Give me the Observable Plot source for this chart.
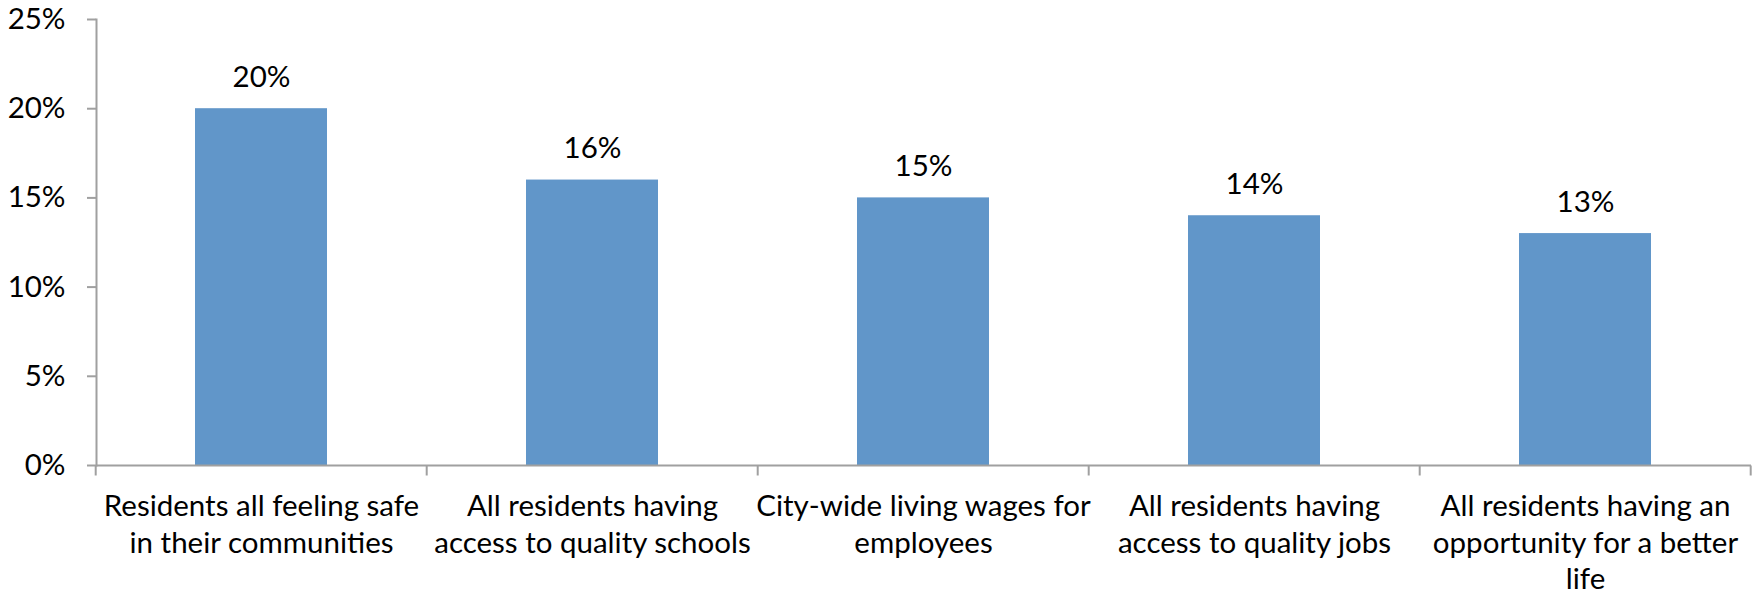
<!DOCTYPE html>
<html>
<head>
<meta charset="utf-8">
<script src="https://cdn.jsdelivr.net/npm/d3@7"></script>
<script src="https://cdn.jsdelivr.net/npm/@observablehq/plot@0.6"></script>
<style>
  html, body { margin: 0; padding: 0; background: #fff; }
  #chart svg { display: block; }
</style>
</head>
<body>
<div id="chart"></div>
<script>
const categories = [
  "Residents all feeling safe in their communities",
  "All residents having access to quality schools",
  "City-wide living wages for employees",
  "All residents having access to quality jobs",
  "All residents having an opportunity for a better life"
];
const tickLabels = [
  "Residents all feeling safe\nin their communities",
  "All residents having\naccess to quality schools",
  "City-wide living wages for\nemployees",
  "All residents having\naccess to quality jobs",
  "All residents having an\nopportunity for a better\nlife"
];
const values = [0.20, 0.16, 0.15, 0.14, 0.13];
const yTicks = [0, 0.05, 0.10, 0.15, 0.20, 0.25];

const data = categories.map((c, i) => ({category: c, value: values[i], label: tickLabels[i]}));

const FONT = "Lato, 'Open Sans', sans-serif";
const FS = 29.5;
const GRAY = "#a0a0a0";
const BLUE = "#6196c9";
const pct = d => Math.round(d * 100) + "%";

const chart = Plot.plot({
  width: 1761,
  height: 595,
  marginLeft: 96,
  marginRight: 10,
  marginTop: 19,
  marginBottom: 130,
  style: {fontFamily: FONT, fontSize: FS + "px", background: "#fff", color: "#000"},
  x: {domain: categories, paddingInner: 0.6, paddingOuter: 0.3, axis: null},
  y: {domain: [0, 0.25], axis: null},
  marks: [
    Plot.barY(data, {x: "category", y: "value", fill: BLUE}),
    Plot.frame({anchor: "left", stroke: GRAY, strokeWidth: 2}),
    Plot.axisY({
      ticks: yTicks, tickFormat: pct, tickSize: 9, tickPadding: 22,
      stroke: GRAY, strokeWidth: 2, fill: "#000", fontSize: FS, label: null
    }),
    Plot.ruleY([0], {
      stroke: GRAY, strokeWidth: 2,
      render(index, scales, values, dimensions, context, next) {
        const g = next(index, scales, values, dimensions, context);
        const x = scales.x, y0 = scales.y(0);
        const step = x.step();
        const starts = categories.map(c => x(c) - step * 0.3);
        starts.push(starts[starts.length - 1] + step);
        d3.select(g).selectAll("line.bt").data(starts).join("line")
          .attr("class", "bt")
          .attr("x1", d => d).attr("x2", d => d)
          .attr("y1", y0).attr("y2", y0 + 10)
          .attr("stroke", GRAY).attr("stroke-width", 2);
        return g;
      }
    }),
    Plot.text(data, {
      x: "category", y: "value", text: d => pct(d.value),
      lineAnchor: "bottom", dy: -22, fontSize: FS, fill: "#000"
    }),
    Plot.text(data, {
      x: "category", y: () => 0, text: "label",
      lineAnchor: "top", dy: 24, lineHeight: 1.25, fontSize: FS, fill: "#000"
    })
  ]
});
document.getElementById("chart").appendChild(chart);
</script>
</body>
</html>
